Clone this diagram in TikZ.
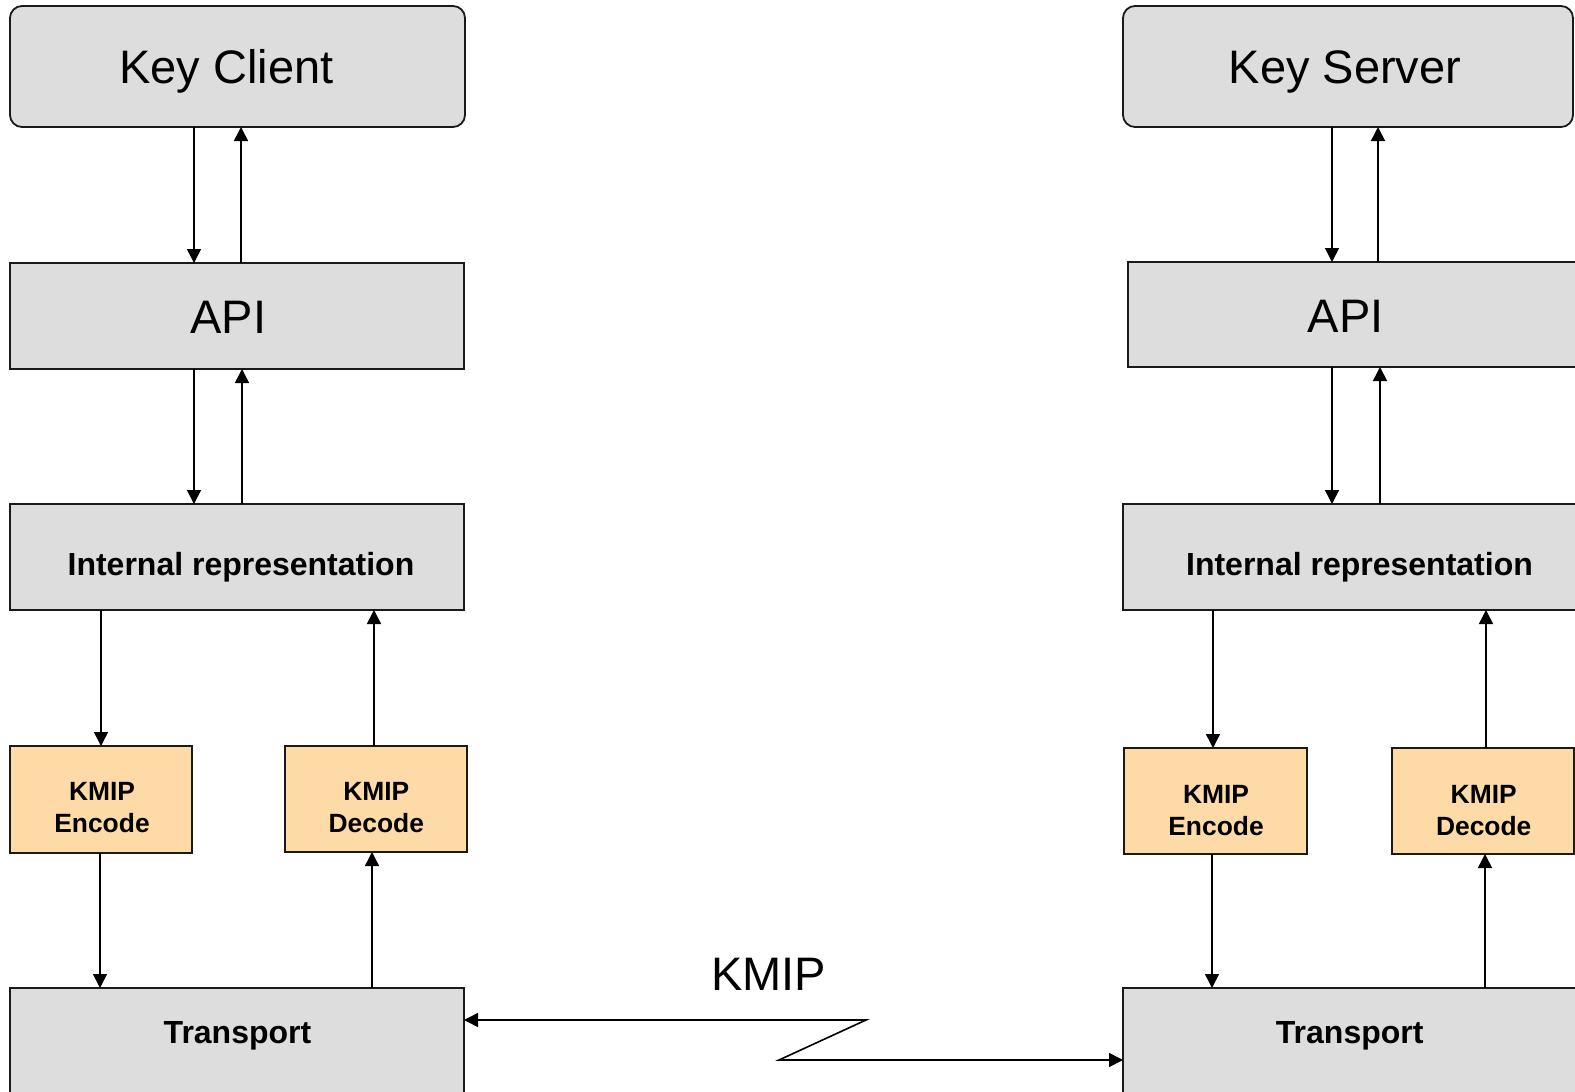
\documentclass[tikz,border=0pt]{standalone}
\usepackage{fontspec}
\setmainfont{Liberation Sans}
\usetikzlibrary{arrows.meta}
\definecolor{boxgray}{HTML}{DDDDDD}
\definecolor{codecorange}{HTML}{FDDAA6}
\definecolor{edge}{HTML}{1A1A1A}
\tikzset{
  layer/.style={draw=edge, line width=1.8pt, fill=boxgray, inner sep=0pt, outer sep=0pt},
  endpoint/.style={layer, rounded corners=12pt},
  codec/.style={draw=edge, line width=1.8pt, fill=codecorange, inner sep=0pt, outer sep=0pt},
  flow/.style={line width=1.6pt, -{Triangle[length=14pt,width=14pt]}},
  wire/.style={line width=1.6pt, {Triangle[length=14pt,width=14pt]}-{Triangle[length=14pt,width=14pt]}},
  bigtxt/.style={anchor=base, inner sep=0pt, font=\fontsize{47}{56}\selectfont},
  boldtxt/.style={anchor=base, inner sep=0pt, font=\fontsize{32}{38}\selectfont\bfseries},
  codectxt/.style={anchor=center, inner sep=0pt, align=center, font=\fontsize{26.4}{32}\selectfont\bfseries},
}
\begin{document}
\begin{tikzpicture}[x=1pt, y=-1pt]
  \clip (0,0) rectangle (1575,1092);
  \fill[white] (0,0) rectangle (1575,1092);

  % client side
  \node[endpoint, minimum width=455pt, minimum height=121pt] (kc) at (237.5,66.5) {};
  \node[layer, minimum width=454pt, minimum height=106pt] (api) at (237,316) {};
  \node[layer, minimum width=454pt, minimum height=106pt] (ir) at (237,557) {};
  \node[codec, minimum width=182pt, minimum height=107pt] (enc) at (101,799.5) {};
  \node[codec, minimum width=182pt, minimum height=106pt] (dec) at (376,799) {};
  \node[layer, minimum width=454pt, minimum height=112pt] (tr) at (237,1044) {};

  % server side
  \node[endpoint, minimum width=450pt, minimum height=121pt] (ks) at (1348,66.5) {};
  \node[layer, minimum width=462pt, minimum height=105pt] (api2) at (1359,314.5) {};
  \node[layer, minimum width=467pt, minimum height=106pt] (ir2) at (1356.5,557) {};
  \node[codec, minimum width=183pt, minimum height=106pt] (enc2) at (1215.5,801) {};
  \node[codec, minimum width=182pt, minimum height=106pt] (dec2) at (1483,801) {};
  \node[layer, minimum width=467pt, minimum height=112pt] (tr2) at (1356.5,1044) {};

  % labels
  \node[bigtxt] (kc-t) at (226.5,83.5) {Key Client};
  \node[bigtxt] (api-t) at (228.5,333) {API};
  \node[boldtxt] (ir-t) at (241,575) {Internal representation};
  \node[codectxt] (enc-t) at (102,808) {KMIP\\Encode};
  \node[codectxt] (dec-t) at (376.3,808) {KMIP\\Decode};
  \node[boldtxt] (tr-t) at (237.5,1043.3) {Transport};

  \node[bigtxt] (ks-t) at (1345,83) {Key Server};
  \node[bigtxt] (api2-t) at (1345.8,332) {API};
  \node[boldtxt] (ir2-t) at (1359.5,575) {Internal representation};
  \node[codectxt] (enc2-t) at (1216,810.5) {KMIP\\Encode};
  \node[codectxt] (dec2-t) at (1483.7,810.5) {KMIP\\Decode};
  \node[boldtxt] (tr2-t) at (1349.7,1043.3) {Transport};

  \node[bigtxt] (wire-t) at (768.5,990) {KMIP};

  % client flows
  \draw[flow] (kc.south -| 194,0) -- (api.north -| 194,0);
  \draw[flow] (api.north -| 241,0) -- (kc.south -| 241,0);
  \draw[flow] (api.south -| 194,0) -- (ir.north -| 194,0);
  \draw[flow] (ir.north -| 242,0) -- (api.south -| 242,0);
  \draw[flow] (ir.south -| 101,0) -- (enc.north -| 101,0);
  \draw[flow] (dec.north -| 374,0) -- (ir.south -| 374,0);
  \draw[flow] (enc.south -| 100,0) -- (tr.north -| 100,0);
  \draw[flow] (tr.north -| 372,0) -- (dec.south -| 372,0);

  % server flows
  \draw[flow] (ks.south -| 1332,0) -- (api2.north -| 1332,0);
  \draw[flow] (api2.north -| 1378,0) -- (ks.south -| 1378,0);
  \draw[flow] (api2.south -| 1332,0) -- (ir2.north -| 1332,0);
  \draw[flow] (ir2.north -| 1380,0) -- (api2.south -| 1380,0);
  \draw[flow] (ir2.south -| 1213,0) -- (enc2.north -| 1213,0);
  \draw[flow] (dec2.north -| 1486,0) -- (ir2.south -| 1486,0);
  \draw[flow] (enc2.south -| 1212,0) -- (tr2.north -| 1212,0);
  \draw[flow] (tr2.north -| 1485,0) -- (dec2.south -| 1485,0);

  % KMIP link between the transports
  \coordinate (z1) at (866,1020);
  \coordinate (z2) at (779,1060);
  \draw[wire] (tr.east |- z1) -- (z1) -- (z2) -- (tr2.west |- z2);
\end{tikzpicture}
\end{document}
